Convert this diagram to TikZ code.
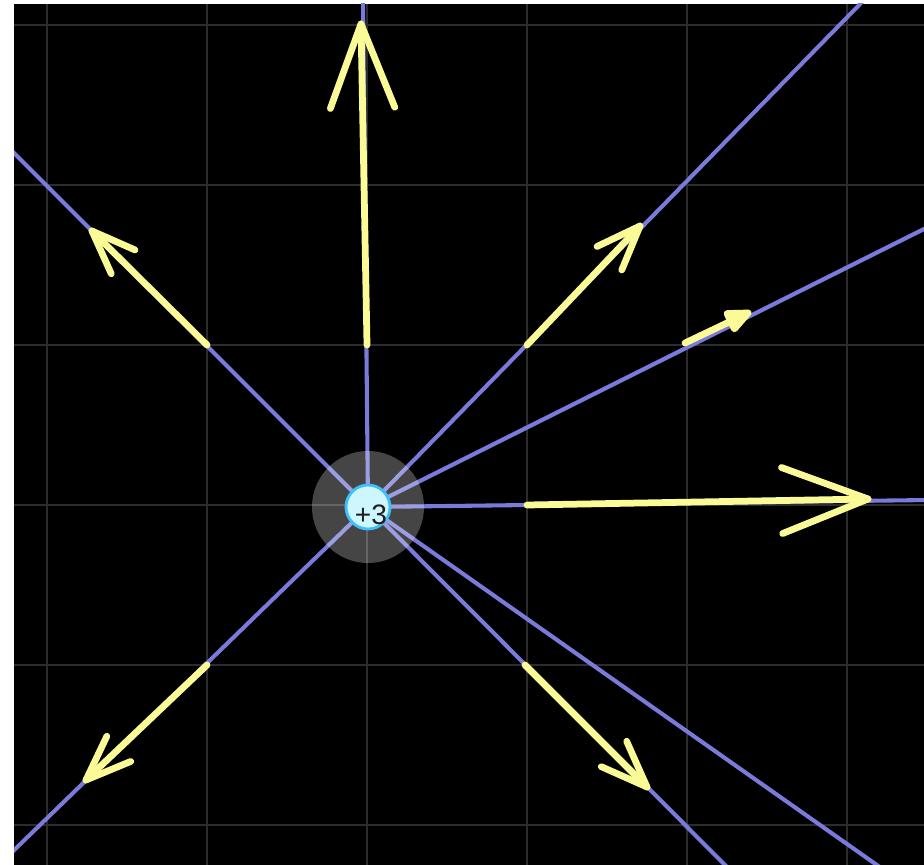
\documentclass[tikz,border=0pt]{standalone}
\definecolor{fieldbg}  {RGB}{0,0,0}
\definecolor{gridgray} {RGB}{44,44,44}
\definecolor{flux}     {RGB}{122,122,218}
\definecolor{evecyel}  {RGB}{250,250,150}
\definecolor{qfill}    {RGB}{205,246,255}
\definecolor{qrim}     {RGB}{64,190,250}
\definecolor{qtext}    {RGB}{30,30,30}
\usepackage{fontspec}
\setsansfont{Liberation Sans}
\usepackage{tikz}
\usetikzlibrary{calc}
\tikzset{
  gridln/.style={draw=gridgray,line width=1.4pt},
  fline/.style={draw=flux,line width=2.9pt},
  vecarr/.style={draw=evecyel,line width=4.8pt,line cap=round,line join=round},
  halo/.style={fill=white,opacity=0.27},
  charge/.style={circle,draw=qrim,fill=qfill,line width=2pt,
                 minimum size=1.1cm,inner sep=0pt},
}
% field vector: start, tip, head fraction
\newcommand{\evector}[3]{%
  \draw[vecarr] (#1) -- (#2);
  \draw[vecarr] ($(#2)!#3!21:(#1)$) -- (#2) -- ($(#2)!#3!-21:(#1)$);
}
% short vector, head filled
\newcommand{\evectorsm}[3]{%
  \draw[vecarr] (#1) -- (#2);
  \filldraw[vecarr,fill=evecyel] ($(#2)!#3!24:(#1)$) -- (#2) -- ($(#2)!#3!-24:(#1)$) -- cycle;
}

\begin{document}
\begin{tikzpicture}[x=0.025cm,y=-0.025cm]
  \useasboundingbox (0,0) rectangle (924,865);
  \fill[white] (0,0) rectangle (924,865);
  \fill[fieldbg] (14,4) rectangle (924,865);

  \begin{scope}
    \clip (14,4) rectangle (924,865);

    % Grid
    \foreach \gx in {47,207,...,847}
      \draw[gridln] (\gx,4) -- (\gx,865);
    \foreach \gy in {25,185,...,825}
      \draw[gridln] (14,\gy) -- (924,\gy);

    % Field lines
    \coordinate (q) at (368,507);
    \foreach \ex/\ey in {363/0, 864/0, 930/226, 930/500,
                         730/870, 884/870, 8/856, 8/147}
      \draw[fline] (q) -- (\ex,\ey);

    % Field vectors at grid points
    \coordinate (p1) at (367,345);  \coordinate (t1) at (361,24);
    \coordinate (p2) at (207,345);  \coordinate (t2) at (92,231);
    \coordinate (p3) at (527,345);  \coordinate (t3) at (640,226);
    \coordinate (p4) at (685,343);  \coordinate (t4) at (748,313);
    \coordinate (p5) at (527,505);  \coordinate (t5) at (868,499);
    \coordinate (p6) at (207,665);  \coordinate (t6) at (86,780);
    \coordinate (p7) at (525,665);  \coordinate (t7) at (647,787);
    \evector{p1}{t1}{0.28}
    \evector{p2}{t2}{0.29}
    \evector{p3}{t3}{0.29}
    \evectorsm{p4}{t4}{0.30}
    \evector{p5}{t5}{0.27}
    \evector{p6}{t6}{0.29}
    \evector{p7}{t7}{0.29}
  \end{scope}

  % Charge
  \fill[halo] (q) circle (1.4cm);
  \node[charge] (chg) at (q) {};
  \node[font=\sffamily\fontsize{20}{20}\selectfont, text=qtext, inner sep=0pt]
    (chglbl) at (371,515) {+3};
\end{tikzpicture}
\end{document}
